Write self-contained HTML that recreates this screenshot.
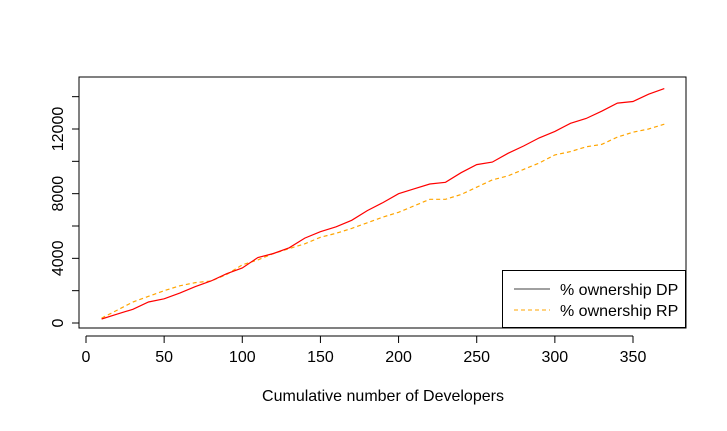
<!DOCTYPE html>
<html><head><meta charset="utf-8"><style>
body{margin:0;background:#fff}
svg text{font-family:"Liberation Sans",sans-serif;font-size:16px;fill:#000}
</style></head><body>
<svg width="727" height="426">
<rect x="79" y="77" width="607" height="251" fill="none" stroke="#000" stroke-width="1"/>
<g id="axes"></g>
<g id="series"></g>
<g>
<rect x="502.5" y="270.5" width="183" height="57" fill="#fff" stroke="#000"/>
<line x1="514" x2="550" y1="289" y2="289" stroke="#000" stroke-width="0.8"/>
<text x="560" y="295">% ownership DP</text>
<line x1="514" x2="550" y1="310" y2="310" stroke="orange" stroke-width="1" stroke-dasharray="4,3"/>
<text x="560" y="316">% ownership RP</text>
</g>
<text x="383" y="401" text-anchor="middle">Cumulative number of Developers</text>
</svg>
<script>
const xs=[10,20,30,40,50,60,70,80,90,100,110,120,130,140,150,160,170,180,190,200,210,220,230,240,250,260,270,280,290,300,310,320,330,340,350,360,370];
const dp=[250,550,850,1300,1500,1850,2250,2600,3050,3400,4050,4300,4650,5250,5650,5950,6350,6950,7450,8000,8300,8600,8700,9300,9800,9950,10500,10950,11450,11850,12350,12650,13100,13600,13700,14150,14500];
const rp=[300,800,1300,1650,2000,2300,2500,2600,3000,3600,3900,4300,4600,4900,5300,5550,5850,6200,6550,6850,7250,7650,7650,7950,8400,8850,9100,9500,9900,10400,10600,10900,11050,11500,11800,12000,12300];
const xTicks=[0,50,100,150,200,250,300,350];
const yTicks=[0,2000,4000,6000,8000,10000,12000,14000];
const yLabels=[0,4000,8000,12000];
const NS="http://www.w3.org/2000/svg";
const X=v=>86+v*(547/350);
const Y=v=>323-v*(194/12000);
const axes=document.getElementById('axes'), ser=document.getElementById('series');
function mk(tag,attrs,parent){const e=document.createElementNS(NS,tag);for(const k in attrs)e.setAttribute(k,attrs[k]);parent.appendChild(e);return e;}
let xa=mk('line',{x1:X(0),x2:X(350),y1:336,y2:336,stroke:'#000'},axes);


xTicks.forEach(t=>{
 const l=mk('line',{x1:X(t),x2:X(t),y1:336,y2:343,stroke:'#000'},axes);
 
 
 const tx=mk('text',{x:X(t),y:362,'text-anchor':'middle'},axes);tx.textContent=t;
 
 
});
let ya=mk('line',{x1:79,x2:79,y1:Y(0),y2:Y(14000),stroke:'#000'},axes);


yTicks.forEach(t=>{
 const l=mk('line',{x1:72,x2:79,y1:Y(t),y2:Y(t),stroke:'#000'},axes);
 
 
});
yLabels.forEach(t=>{
 const tx=mk('text',{x:0,y:0,'text-anchor':'middle',transform:`translate(63,${Y(t)}) rotate(-90)`},axes);tx.textContent=t;
 
 
});
const pts=a=>a.map((v,i)=>X(xs[i]).toFixed(1)+','+Y(v).toFixed(1)).join(' ');
let p1=mk('polyline',{points:pts(rp),fill:'none',stroke:'orange','stroke-width':1.2,'stroke-dasharray':'4,3'},ser);


let p2=mk('polyline',{points:pts(dp),fill:'none',stroke:'red','stroke-width':1.2},ser);


</script>
</body></html>
